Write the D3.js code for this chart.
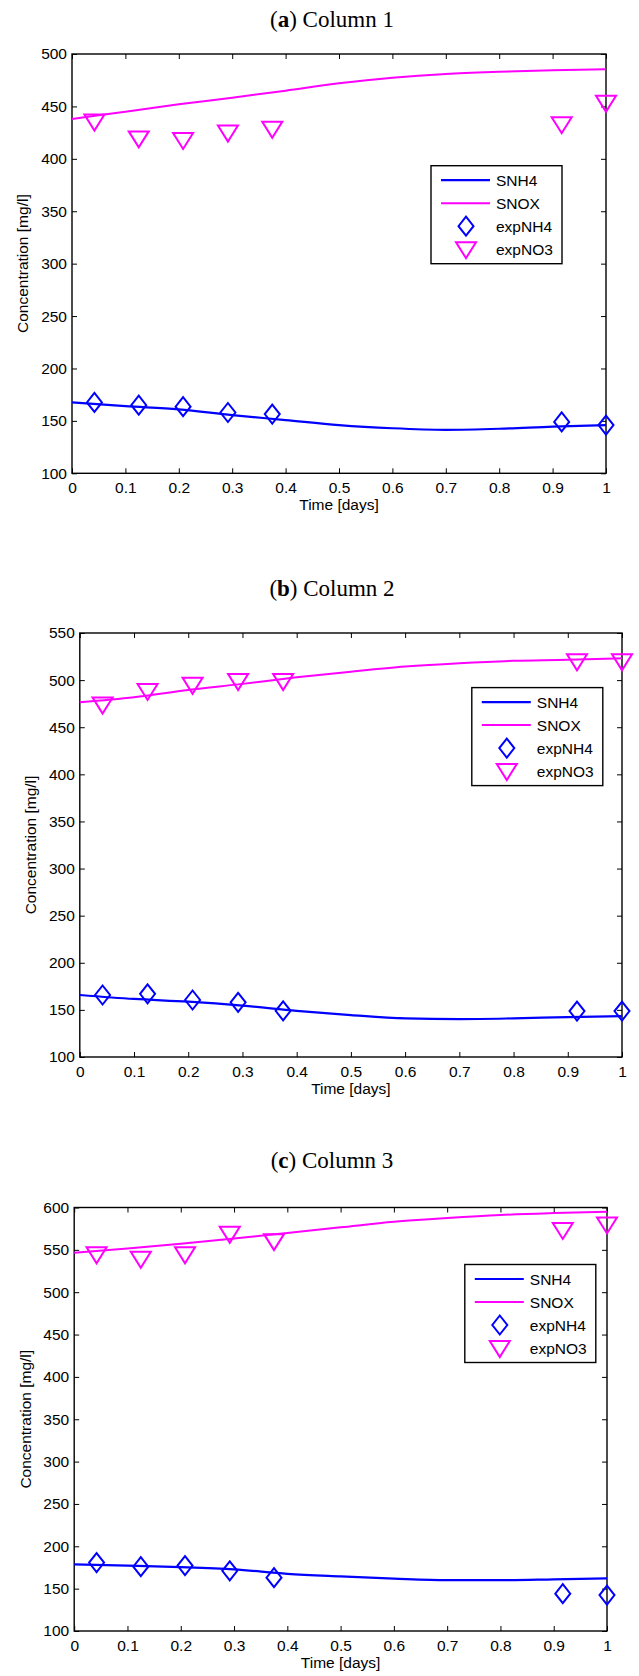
<!DOCTYPE html>
<html>
<head>
<meta charset="utf-8">
<script src="https://cdn.jsdelivr.net/npm/d3@7"></script>
<style>
  body { margin: 0; background: #fff; }
  text { font-family: Arial, "Liberation Sans", sans-serif; }
</style>
</head>
<body>
<div id="chart"></div>
<script>
// time grid for model curves, sampling times for measurements (days)
const timeGrid = [0, 0.1, 0.2, 0.3, 0.4, 0.5, 0.6, 0.7, 0.8, 0.9, 1.0];
const sampleTimes = [0.042, 0.125, 0.208, 0.292, 0.375, 0.917, 1.0];
const xTicks = [0, 0.1, 0.2, 0.3, 0.4, 0.5, 0.6, 0.7, 0.8, 0.9, 1];
const legendLabels = ["SNH4", "SNOX", "expNH4", "expNO3"];

// column 1
const snh4A = [167.6, 164, 161, 155.5, 150.8, 146, 143, 141.5, 142.5, 144.5, 146];
const snoxA = [438, 445, 452, 458.3, 465, 472, 477.4, 481, 483, 484.4, 485.4];
const expNH4A = [167.6, 165, 163.5, 158, 156.5, 149, 146];
const expNO3A = [435.5, 419.5, 418, 425, 428.7, 433, 453.5];
const yTicksA = [100, 150, 200, 250, 300, 350, 400, 450, 500];

// column 2
const snh4B = [165.8, 161.6, 158.7, 154.5, 149, 144.5, 141, 140.2, 141, 142.4, 143.4];
const snoxB = [476.4, 481.7, 489.5, 496, 503, 509, 514.4, 518, 520.5, 521.5, 523.3];
const expNH4B = [165.8, 167, 160.5, 158, 149, 148.8, 148.8];
const expNO3B = [474, 488.5, 495, 499, 499, 520, 520];
const yTicksB = [100, 150, 200, 250, 300, 350, 400, 450, 500, 550];

// column 3
const snh4C = [178.6, 177.2, 175.5, 172.8, 167.5, 164.4, 161.8, 160, 160, 161, 162.2];
const snoxC = [546.6, 551.5, 557.2, 563.4, 570, 576.6, 583.2, 587.6, 591.2, 593.4, 595];
const expNH4C = [180.8, 176, 177.2, 171, 163, 144, 142.4];
const expNO3C = [544.8, 539.5, 544.8, 569, 560.3, 573.5, 580];
const yTicksC = [100, 150, 200, 250, 300, 350, 400, 450, 500, 550, 600];

const BLUE = "#0000ff", MAGENTA = "#ff00ff";

const svg = d3.select("#chart").append("svg")
  .attr("width", 639).attr("height", 1676);

function diamond(g, x, y) {
  g.append("path")
    .attr("d", `M${x},${y - 9.5}L${x + 7.5},${y}L${x},${y + 9.5}L${x - 7.5},${y}Z`)
    .attr("fill", "none").attr("stroke", BLUE).attr("stroke-width", 2);
}
function triangle(g, x, y) {
  g.append("path")
    .attr("d", `M${x - 10},${y - 7}L${x + 10},${y - 7}L${x},${y + 9}Z`)
    .attr("fill", "none").attr("stroke", MAGENTA).attr("stroke-width", 2);
}

function drawPanel(p) {
  const g = svg.append("g");
  const x = d3.scaleLinear().domain([0, 1]).range([p.left, p.right]);
  const y = d3.scaleLinear().domain([100, p.yMax]).range([p.bottom, p.top]);

  // title
  const t = g.append("text")
    .attr("x", p.titleX).attr("y", p.titleY)
    .attr("text-anchor", "middle")
    .style("font-family", "'Liberation Serif', 'Times New Roman', serif")
    .style("font-size", "23px");
  t.append("tspan").text("(");
  t.append("tspan").style("font-weight", "bold").text(p.letter);
  t.append("tspan").text(") Column " + p.num);

  // axes, ticks pointing inward
  const fmt = d => d === 0 ? "0" : d === 1 ? "1" : d3.format(".1f")(d);
  const xb = g.append("g").attr("transform", `translate(0,${p.bottom})`)
    .call(d3.axisBottom(x).tickValues(xTicks).tickFormat(fmt).tickSizeInner(-5).tickSizeOuter(0).tickPadding(8.5));
  const xt = g.append("g").attr("transform", `translate(0,${p.top})`)
    .call(d3.axisTop(x).tickValues(xTicks).tickFormat("").tickSizeInner(-5).tickSizeOuter(0));
  const yl = g.append("g").attr("transform", `translate(${p.left},0)`)
    .call(d3.axisLeft(y).tickValues(p.yTicks).tickSizeInner(-5).tickSizeOuter(0).tickPadding(5));
  const yr = g.append("g").attr("transform", `translate(${p.right},0)`)
    .call(d3.axisRight(y).tickValues(p.yTicks).tickFormat("").tickSizeInner(-5).tickSizeOuter(0));
  [xb, xt, yl, yr].forEach(a => {
    a.select(".domain").remove();
    a.selectAll("line").attr("stroke", "#000").attr("stroke-width", 1);
    a.selectAll("text").attr("fill", "#000").style("font-size", "15.5px")
      .style("font-family", "Arial, 'Liberation Sans', sans-serif");
  });

  g.append("rect")
    .attr("x", p.left).attr("y", p.top)
    .attr("width", p.right - p.left).attr("height", p.bottom - p.top)
    .attr("fill", "none").attr("stroke", "#000").attr("stroke-width", 1.4);

  // axis labels
  g.append("text")
    .attr("x", (p.left + p.right) / 2).attr("y", p.bottom + 37)
    .attr("text-anchor", "middle").style("font-size", "15.5px")
    .text("Time [days]");
  g.append("text")
    .attr("transform", `translate(${p.ylabX},${(p.top + p.bottom) / 2}) rotate(-90)`)
    .attr("text-anchor", "middle").style("font-size", "15.5px")
    .text("Concentration [mg/l]");

  // model curves
  const line = d3.line().x((d, i) => x(timeGrid[i])).y(d => y(d)).curve(d3.curveMonotoneX);
  g.append("path").attr("d", line(p.snh4)).attr("fill", "none")
    .attr("stroke", BLUE).attr("stroke-width", 2.2);
  g.append("path").attr("d", line(p.snox)).attr("fill", "none")
    .attr("stroke", MAGENTA).attr("stroke-width", 2);

  // measurements
  p.expNH4.forEach((v, i) => diamond(g, x(sampleTimes[i]), y(v)));
  p.expNO3.forEach((v, i) => triangle(g, x(sampleTimes[i]), y(v)));

  // legend
  const lg = g.append("g").attr("transform", `translate(${p.legX},${p.legY})`);
  lg.append("rect").attr("width", 131).attr("height", 98)
    .attr("fill", "#fff").attr("stroke", "#000").attr("stroke-width", 1.4);
  legendLabels.forEach((lab, i) => {
    const ry = 14.5 + 23 * i;
    if (i === 0 || i === 1) {
      lg.append("line").attr("x1", 10).attr("x2", 59).attr("y1", ry).attr("y2", ry)
        .attr("stroke", i === 0 ? BLUE : MAGENTA).attr("stroke-width", i === 0 ? 2.2 : 2);
    } else if (i === 2) {
      diamond(lg, 35, ry);
    } else {
      triangle(lg, 35, ry);
    }
    lg.append("text").attr("x", 65).attr("y", ry).attr("dy", "0.36em")
      .style("font-size", "15.5px").text(lab);
  });
}

drawPanel({
  letter: "a", num: 1, titleX: 332, titleY: 27,
  left: 72, right: 606, top: 54, bottom: 473.3, yMax: 500, yTicks: yTicksA, ylabX: 28,
  legX: 431, legY: 165.7,
  snh4: snh4A, snox: snoxA, expNH4: expNH4A, expNO3: expNO3A
});
drawPanel({
  letter: "b", num: 2, titleX: 332, titleY: 596,
  left: 79.8, right: 622, top: 633, bottom: 1057, yMax: 550, yTicks: yTicksB, ylabX: 36,
  legX: 471.8, legY: 687.6,
  snh4: snh4B, snox: snoxB, expNH4: expNH4B, expNO3: expNO3B
});
drawPanel({
  letter: "c", num: 3, titleX: 332, titleY: 1168,
  left: 74.2, right: 607, top: 1207.5, bottom: 1631, yMax: 600, yTicks: yTicksC, ylabX: 31,
  legX: 464.8, legY: 1264.5,
  snh4: snh4C, snox: snoxC, expNH4: expNH4C, expNO3: expNO3C
});
</script>
</body>
</html>
